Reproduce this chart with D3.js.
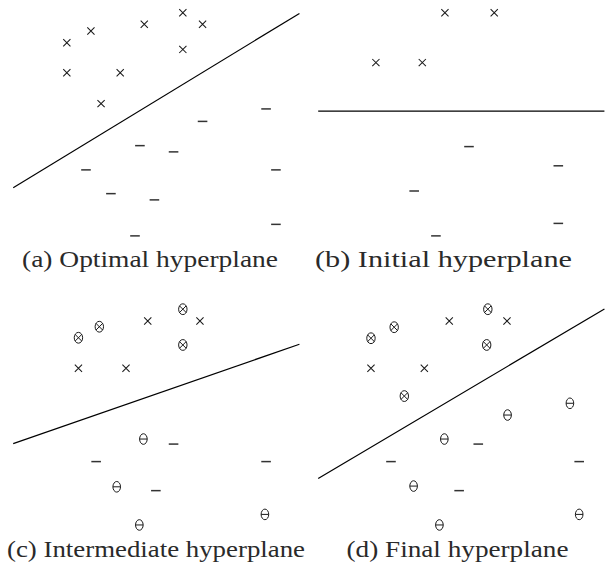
<!DOCTYPE html>
<html>
<head>
<meta charset="utf-8">
<script src="https://cdn.jsdelivr.net/npm/d3@7"></script>
<style>
  html, body { margin: 0; padding: 0; background: #fff; }
  svg { display: block; }
</style>
</head>
<body>
<svg id="chart" width="611" height="570"></svg>
<script>
// ---- Data (abstract feature-space coordinates, 0..10 in each panel) ----
// Panel (a) Optimal hyperplane
const aPos = [[1.96,8.43],[2.79,8.92],[4.63,9.20],[5.96,9.68],[6.64,9.20],[5.96,8.15],[1.96,7.18],[3.80,7.18],[3.14,5.89]];
const aNeg = [[8.83,5.67],[6.64,5.15],[4.48,4.14],[5.64,3.88],[2.62,3.13],[9.17,3.13],[3.48,2.14],[4.98,1.88],[9.17,0.86],[4.31,0.38]];
const aLine = [[0.11,2.39],[9.98,9.65]];

// Panel (b) Initial hyperplane
const bPos = [[4.48,9.68],[6.18,9.68],[2.10,7.60],[3.70,7.60]];
const bNeg = [[5.31,4.10],[8.39,3.30],[3.42,2.25],[8.39,0.90],[4.17,0.38]];
const bLine = [[0.11,5.58],[9.98,5.58]];

// Panel (c) Intermediate hyperplane
const cPosSel = [[2.36,8.01],[3.08,8.47],[5.96,9.20],[5.96,7.71]];
const cPos = [[4.75,8.71],[6.55,8.71],[2.36,6.74],[4.00,6.74]];
const cNegSel = [[4.60,3.79],[3.68,1.80],[8.79,0.65],[4.46,0.21]];
const cNeg = [[5.64,3.58],[2.97,2.85],[8.83,2.85],[5.03,1.64]];
const cLine = [[0.11,3.60],[9.98,7.74]];

// Panel (d) Final hyperplane
const dPosSel = [[1.93,7.99],[2.73,8.45],[5.96,9.20],[5.92,7.71],[3.08,5.58]];
const dPos = [[4.63,8.71],[6.62,8.71],[1.93,6.74],[3.77,6.74]];
const dNegSel = [[8.79,5.28],[6.64,4.79],[4.46,3.79],[3.40,1.83],[9.11,0.65],[4.29,0.21]];
const dNeg = [[5.63,3.58],[2.62,2.85],[9.11,2.85],[4.97,1.64]];
const dLine = [[0.11,2.15],[9.98,9.21]];

const captions = ["(a) Optimal hyperplane","(b) Initial hyperplane","(c) Intermediate hyperplane","(d) Final hyperplane"];

// ---- Layout ----
const panels = [
  {ox:0,   oy:0,   pos:aPos, posSel:[],      neg:aNeg, negSel:[],      line:aLine, cap:captions[0], cx:150,   cw:256, cy:267},
  {ox:305, oy:0,   pos:bPos, posSel:[],      neg:bNeg, negSel:[],      line:bLine, cap:captions[1], cx:443.5, cw:257, cy:267},
  {ox:0,   oy:285, pos:cPos, posSel:cPosSel, neg:cNeg, negSel:cNegSel, line:cLine, cap:captions[2], cx:156,   cw:298, cy:557},
  {ox:305, oy:285, pos:dPos, posSel:dPosSel, neg:dNeg, negSel:dNegSel, line:dLine, cap:captions[3], cx:457.5, cw:222, cy:557}
];

const svg = d3.select("#chart");
const ink = "#1a1a1a";

panels.forEach(p => {
  const x = d3.scaleLinear().domain([0,10]).range([p.ox+10, p.ox+300]);
  const y = d3.scaleLinear().domain([0,10]).range([p.oy+245, p.oy+5]);
  const g = svg.append("g");

  // hyperplane
  g.append("path")
    .datum(p.line)
    .attr("d", d3.line().x(d=>x(d[0])).y(d=>y(d[1])))
    .attr("fill","none").attr("stroke","#000").attr("stroke-width",1.2);

  // crosses
  const s = 3.6;
  g.selectAll(".pos").data(p.pos).join("path")
    .attr("d", d => `M${x(d[0])-s},${y(d[1])-s}L${x(d[0])+s},${y(d[1])+s}M${x(d[0])-s},${y(d[1])+s}L${x(d[0])+s},${y(d[1])-s}`)
    .attr("stroke", ink).attr("stroke-width",1.05).attr("fill","none");

  // minus
  g.selectAll(".neg").data(p.neg).join("line")
    .attr("x1", d=>x(d[0])-4.8).attr("x2", d=>x(d[0])+4.8)
    .attr("y1", d=>y(d[1])).attr("y2", d=>y(d[1]))
    .attr("stroke", "#333").attr("stroke-width",1.5);

  // circled crosses
  const rx = 4.2, ry = 5.4;
  const gs = g.selectAll(".posSel").data(p.posSel).join("g")
    .attr("transform", d=>`translate(${x(d[0])},${y(d[1])})`);
  gs.append("ellipse").attr("rx",rx).attr("ry",ry)
    .attr("fill","none").attr("stroke",ink).attr("stroke-width",1);
  const k = 1/Math.sqrt(1/(rx*rx)+1/(ry*ry));
  gs.append("path").attr("d",`M${-k},${-k}L${k},${k}M${-k},${k}L${k},${-k}`)
    .attr("stroke",ink).attr("stroke-width",1);

  // theta
  const tx = 3.8, ty = 5.3;
  const gt = g.selectAll(".negSel").data(p.negSel).join("g")
    .attr("transform", d=>`translate(${x(d[0])},${y(d[1])})`);
  gt.append("ellipse").attr("rx",tx).attr("ry",ty)
    .attr("fill","none").attr("stroke",ink).attr("stroke-width",1);
  gt.append("line").attr("x1",-tx).attr("x2",tx).attr("y1",0).attr("y2",0)
    .attr("stroke",ink).attr("stroke-width",1);

  // caption
  g.append("text")
    .attr("x", p.cx).attr("y", p.cy)
    .attr("text-anchor","middle")
    .attr("font-family","'Liberation Serif', 'Times New Roman', serif")
    .attr("font-size",23)
    .attr("fill","#2a2a2a")
    .attr("textLength", p.cw)
    .attr("lengthAdjust","spacingAndGlyphs")
    .text(p.cap);
});
</script>
</body>
</html>
